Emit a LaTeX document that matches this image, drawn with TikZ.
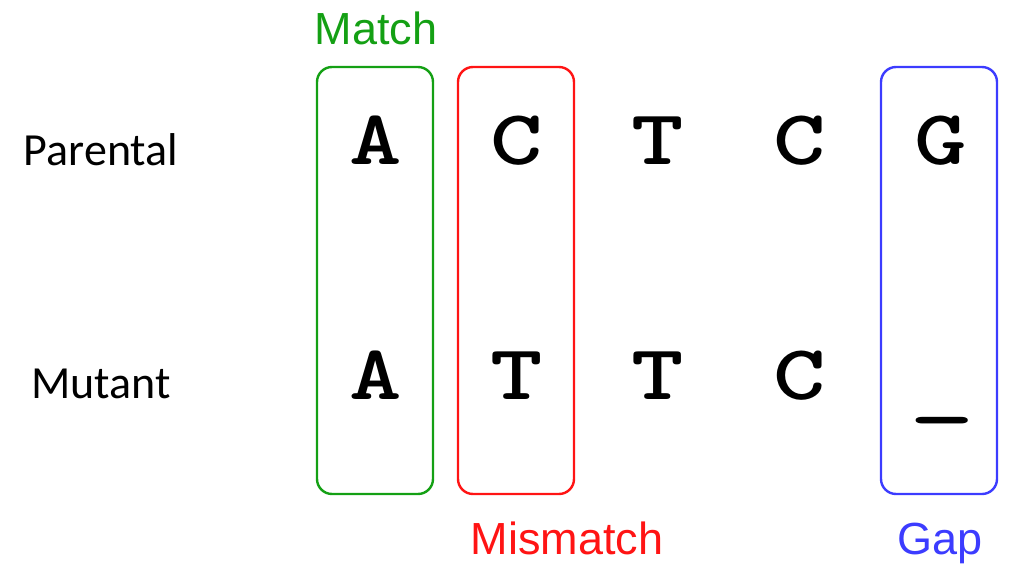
\documentclass[tikz,border=0pt]{standalone}
\usepackage{graphicx}
\usepackage{fontspec}
\setmainfont{Liberation Sans}
\newfontfamily\calfont{Carlito}
\definecolor{mgreen}{RGB}{20,160,20}
\definecolor{mred}{RGB}{255,20,20}
\definecolor{mblue}{RGB}{60,60,255}
\newcommand{\wideglyph}[2][1.28]{\scalebox{#1}[1]{#2}}
\begin{document}
\begin{tikzpicture}[x=1pt,y=-1pt,
  colbox/.style={draw, line width=2.4pt, rounded corners=15pt, minimum width=116pt, minimum height=427pt, inner sep=0pt},
  rowlab/.style={inner sep=0pt, anchor=base, font=\calfont\fontsize{46}{50}\selectfont},
  nuc/.style={inner sep=0pt, anchor=base, font=\ttfamily\bfseries\fontsize{78}{90}\selectfont},
  tag/.style={inner sep=0pt, anchor=base, font=\fontsize{45}{50}\selectfont}]
\useasboundingbox (0,0) rectangle (1010,565);
\node[colbox, draw=mgreen] (bmatch) at (375,280.5) {};
\node[colbox, draw=mred] (bmis) at (516,280.5) {};
\node[colbox, draw=mblue] (bgap) at (939,280.5) {};
\node[rowlab] (par) at (101,165) {Parental};
\node[rowlab] (mut) at (101,398) {Mutant};
\node[nuc] (p1) at (376,164) {\wideglyph{A}};
\node[nuc] (p2) at (517,164) {\wideglyph{C}};
\node[nuc] (p3) at (658,164) {\wideglyph{T}};
\node[nuc] (p4) at (800,164) {\wideglyph{C}};
\node[nuc] (p5) at (941,164) {\wideglyph{G}};
\node[nuc] (m1) at (376,399) {\wideglyph{A}};
\node[nuc] (m2) at (517,399) {\wideglyph{T}};
\node[nuc] (m3) at (658,399) {\wideglyph{T}};
\node[nuc] (m4) at (800,399) {\wideglyph{C}};
\node[nuc] (m5) at (942,411) {\wideglyph[1.6]{\_}};
\node[tag, text=mgreen] (lmatch) at (376,44) {Match};
\node[tag, text=mred] (lmis) at (567,554) {Mismatch};
\node[tag, text=mblue] (lgap) at (940,554) {Gap};
\end{tikzpicture}
\end{document}
